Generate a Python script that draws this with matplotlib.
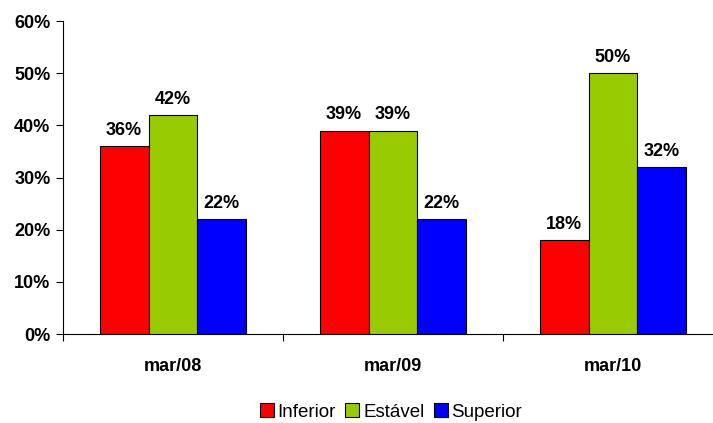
import numpy as np
import matplotlib
matplotlib.use("Agg")
import matplotlib.pyplot as plt
from matplotlib.ticker import FixedLocator, FuncFormatter

categories = ["mar/08", "mar/09", "mar/10"]
series_names = ["Inferior", "Estável", "Superior"]
inferior = [36, 39, 18]
estavel = [42, 39, 50]
superior = [22, 22, 32]

COLORS = ["#FF0000", "#99CC00", "#0000FF"]

plt.rcParams["font.family"] = ["Liberation Sans", "DejaVu Sans"]

W, H = 713, 423
fig = plt.figure(figsize=(W / 100, H / 100), dpi=100)
ax = fig.add_axes([63 / W, (H - 334) / H, 660 / W, 313 / H])

x = np.arange(len(categories))
bw = 0.222
for i, (vals, name) in enumerate(zip([inferior, estavel, superior], series_names)):
    pos = x + (i - 1) * bw
    ax.bar(pos, vals, width=bw, color=COLORS[i], edgecolor="black",
           linewidth=0.8, label=name, zorder=3)
    for p, v in zip(pos, vals):
        ax.text(p, v + 1.4, f"{v:.0f}%", ha="center", va="bottom",
                fontsize=13, fontweight="bold")

ax.set_xlim(-0.5, 2.5)
ax.set_ylim(0, 60)
ax.set_yticks(np.arange(0, 61, 10))
ax.yaxis.set_major_formatter(FuncFormatter(lambda v, _: f"{v:.0f}%"))
ax.tick_params(axis="y", direction="out", length=5, width=0.8, labelsize=13, pad=4)
for lab in ax.get_yticklabels():
    lab.set_fontweight("bold")

ax.xaxis.set_major_locator(FixedLocator([-0.5, 0.5, 1.5, 2.5]))
ax.xaxis.set_major_formatter(FuncFormatter(lambda v, _: ""))
ax.xaxis.set_minor_locator(FixedLocator(x))
ax.set_xticklabels(categories, minor=True, fontsize=13, fontweight="bold")
ax.tick_params(axis="x", which="major", direction="out", length=5, width=0.8)
ax.tick_params(axis="x", which="minor", length=0, pad=17)

for s in ["top", "right"]:
    ax.spines[s].set_visible(False)
ax.spines["left"].set_linewidth(0.8)
ax.spines["bottom"].set_linewidth(0.8)

fig.legend(loc="center", bbox_to_anchor=(391 / W, 1 - 412 / H), ncol=3,
           frameon=False, fontsize=13.5, handlelength=0.75, handleheight=0.75,
           handletextpad=0.2, columnspacing=0.5)

fig.savefig("out.png", dpi=100)
